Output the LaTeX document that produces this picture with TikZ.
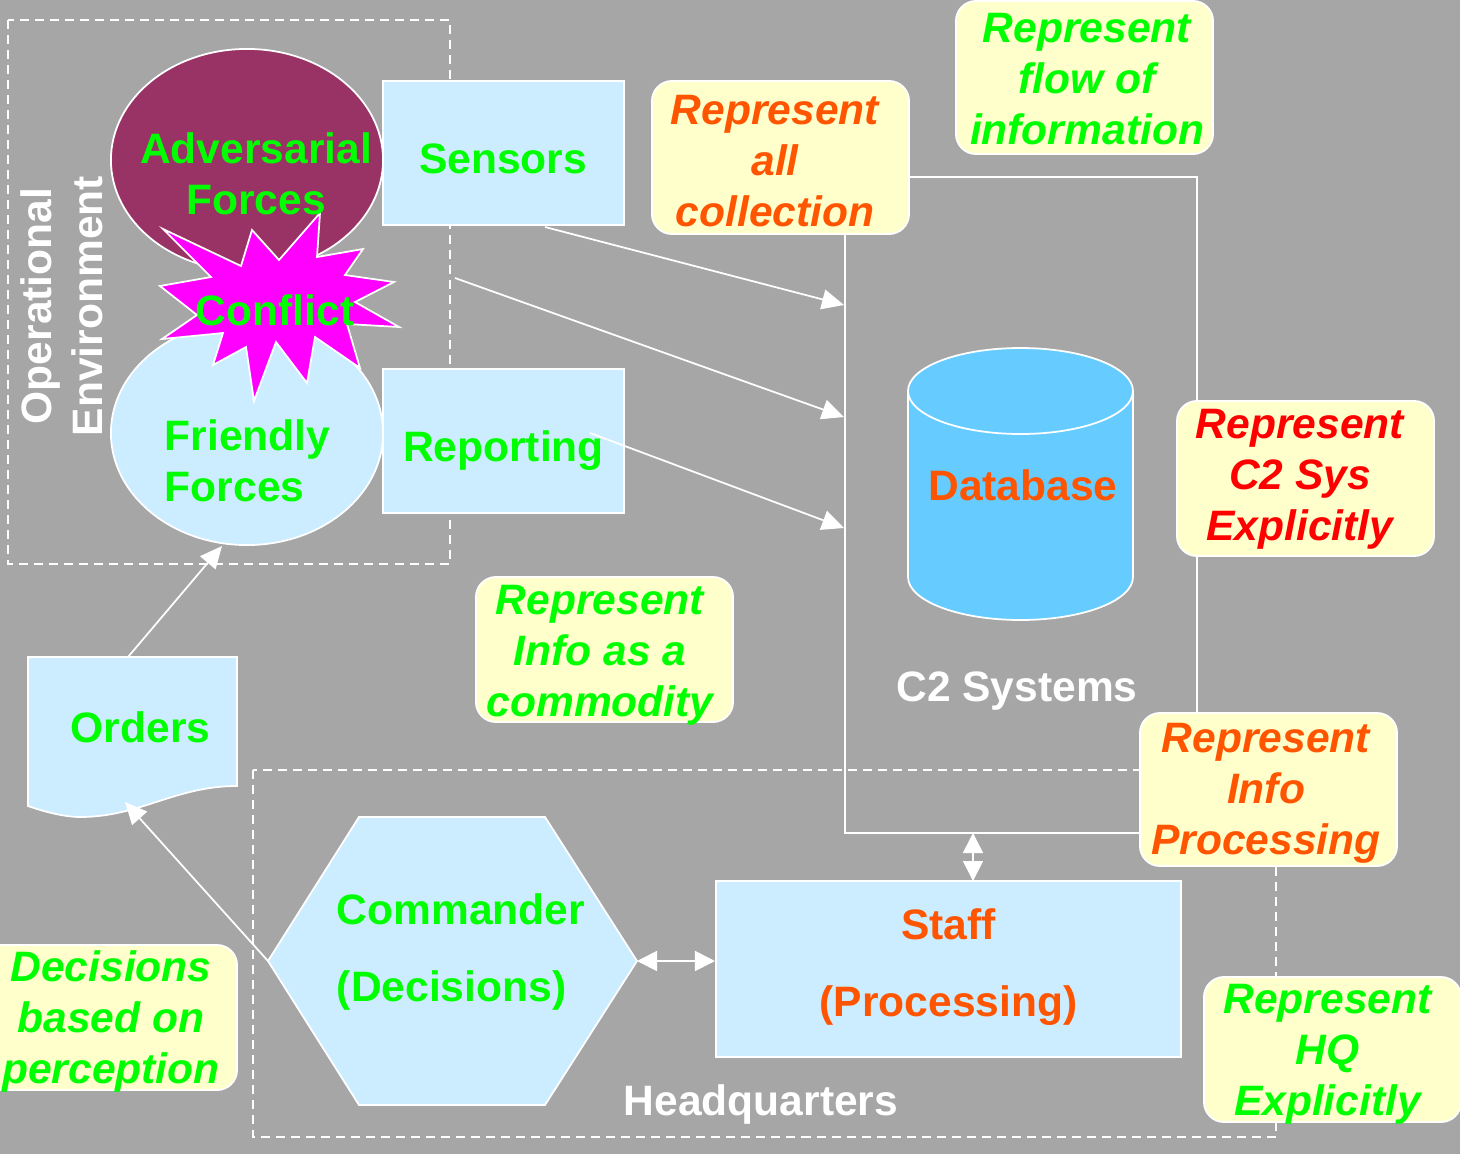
\documentclass[tikz,border=0pt]{standalone}
\usepackage{fontspec}
\setmainfont{Liberation Sans}
\usetikzlibrary{shapes.geometric,arrows.meta}
\definecolor{slide}{HTML}{A6A6A6}
\definecolor{paleblue}{HTML}{CCECFF}
\definecolor{maroon}{HTML}{993366}
\definecolor{notefill}{HTML}{FFFFCC}
\definecolor{dbblue}{HTML}{66CCFF}
\definecolor{lime}{HTML}{00FF00}
\definecolor{burnt}{HTML}{FF5500}
\definecolor{flash}{HTML}{FF00FF}
\begin{document}
\begin{tikzpicture}[x=0.01cm,y=-0.01cm,line width=0.5pt,font=\fontsize{12.1}{14.5}\selectfont\bfseries]
    \tikzstyle{outline}=[draw=white,inner sep=0pt]
    \tikzstyle{plain}=[outline,fill=paleblue]
    \tikzstyle{boxshape}=[plain,rectangle]
    \tikzstyle{blob}=[plain,ellipse,minimum width=2.72cm,minimum height=2.22cm]
    \tikzstyle{note}=[outline,fill=notefill,rounded corners=0.2cm,minimum width=2.57cm]
    \tikzstyle{notetext}=[align=center,inner sep=0pt,font=\fontsize{12.1}{14.5}\selectfont\bfseries\itshape]
    \tikzstyle{framing}=[white,dash pattern=on 0.09cm off 0.06cm]
    \tikzstyle{link}=[white,-{Triangle[length=0.22cm,width=0.2cm]}]
    \tikzstyle{both}=[white,{Triangle[length=0.2cm,width=0.2cm]}-{Triangle[length=0.2cm,width=0.2cm]}]

    \useasboundingbox (0,0) rectangle (1460,1154);
    \fill[slide] (0,0) rectangle (1460,1154);

    % dashed frames and the C2 outline
    \draw[framing] (8,20) rectangle (450,564);
    \draw[framing] (253,770) rectangle (1276,1137);
    \node[outline,minimum width=3.52cm,minimum height=6.56cm] (V-c2) at (1021,505) {};

    % forces and the flash between them
    \node[blob,fill=maroon] (V-adv) at (247,160) {};
    \node[blob,minimum height=2.24cm] (V-fri) at (247,433) {};
    \draw[draw=white,fill=flash,line join=miter] (163,229) -- (241,266) -- (252,230) -- (279,260) -- (320,213) -- (317,257)
        -- (363,249) -- (345,275) -- (394,282) -- (355,302) -- (399,327) -- (347,324) -- (360,368) -- (315,337)
        -- (307,383) -- (276,342) -- (254,401) -- (246,347) -- (213,365) -- (223,333) -- (162,339) -- (197,315)
        -- (160,286) -- (211,277) -- cycle;

    % boxes
    \foreach \num/\x/\y/\w/\h in {sen/503.5/153/2.41cm/1.44cm, rep/503.5/441/2.41cm/1.44cm, sta/948.5/969/4.65cm/1.76cm}
        \node[boxshape,minimum width=\w,minimum height=\h] (V-\num) at (\x,\y) {};

    % orders sheet and commander hexagon
    \draw[plain] (28,657) -- (237,657) -- (237,786) .. controls (175,786) and (140,817) .. (80,817)
        .. controls (65,817) and (45,812) .. (28,806) -- cycle;
    \draw[plain] (359,817) -- (545,817) -- (637,961) -- (545,1105) -- (359,1105) -- (268,961) -- cycle;
    \coordinate (H-left) at (268,961);
    \coordinate (H-right) at (637,961);

    % database
    \draw[draw=white,fill=dbblue] (908,391) -- (908,577) arc[start angle=180,end angle=0,x radius=112.5,y radius=43]
        -- (1133,391) arc[start angle=0,end angle=-180,x radius=112.5,y radius=43] -- cycle;
    \draw[white] (908,391) arc[start angle=180,end angle=0,x radius=112.5,y radius=43];

    % labels
    \foreach \num/\x/\y/\col/\txt in {t-adv/256/173.5/lime/Adversarial\\Forces, t-sen/503/158.5/lime/Sensors,
            t-rep/503.5/451/lime/Reporting, t-ord/140.5/727/lime/Orders, t-con/275/310/lime/Conflict,
            t-db/1023/485/burnt/Database, t-c2/1017/691.5/white/C2 Systems, t-hq/761/1104/white/Headquarters}
        \node[text=\col,align=center,inner sep=0pt] (V-\num) at (\x,\y) {\txt};
    \node[lime,align=left,inner sep=0pt,anchor=west] (V-t-fri) at (164,461) {Friendly\\Forces};
    \node[lime,align=left,inner sep=0pt,anchor=west] (V-t-com) at (336,952) {Commander\\[7.4pt](Decisions)};
    \node[burnt,align=center,inner sep=0pt] (V-t-sta) at (948.5,967.5) {Staff\\[7.4pt](Processing)};
    \node[white,align=center,inner sep=0pt,rotate=90] (V-t-oe) at (62,306) {Operational\\Environment};

    % arrows
    \coordinate (A-1) at (545,227);
    \coordinate (A-2) at (455,278);
    \coordinate (A-3) at (590,433);
    \coordinate (A-4) at (128,657);
    \coordinate (A-5) at (222,546);
    \coordinate (A-6) at (125,802);
    \coordinate (A-7) at (973,833);
    \coordinate (A-8) at (973,881);
    \coordinate (B-1) at (844,305);
    \coordinate (B-2) at (844,417);
    \coordinate (B-3) at (844,528);
    \draw[link] (A-1) -- (B-1);
    \draw[link] (A-2) -- (B-2);
    \draw[link] (A-3) -- (B-3);
    \draw[link] (A-4) -- (A-5);
    \draw[link] (H-left) -- (A-6);
    \draw[both] (H-right) -- (V-sta.west |- H-right);
    \draw[both] (A-7) -- (A-8);

    % notes
    \foreach \num/\x/\y/\h/\tx/\ty/\col/\txt in {1/1084.5/77.5/1.53cm/1087/79.5/lime/Represent\\flow of\\information,
            2/780.5/157.5/1.53cm/775/161.5/burnt/Represent\\all\\collection,
            3/1305.5/478.5/1.55cm/1300/479/red/Represent\\C2 Sys\\Explicitly,
            4/604.5/649.5/1.45cm/600/655/lime/Represent\\Info as a\\commodity,
            5/1268.5/789.5/1.53cm/1266/793/burnt/Represent\\Info\\Processing,
            6/108.5/1017.5/1.45cm/111/1021/lime/Decisions\\based on\\perception,
            7/1332.5/1049.5/1.45cm/1327.5/1054/lime/Represent\\HQ\\Explicitly}
        {
        \node[note,minimum height=\h] (N-\num) at (\x,\y) {};
        \node[notetext,text=\col] (T-\num) at (\tx,\ty) {\txt};
        }
\end{tikzpicture}
\end{document}
